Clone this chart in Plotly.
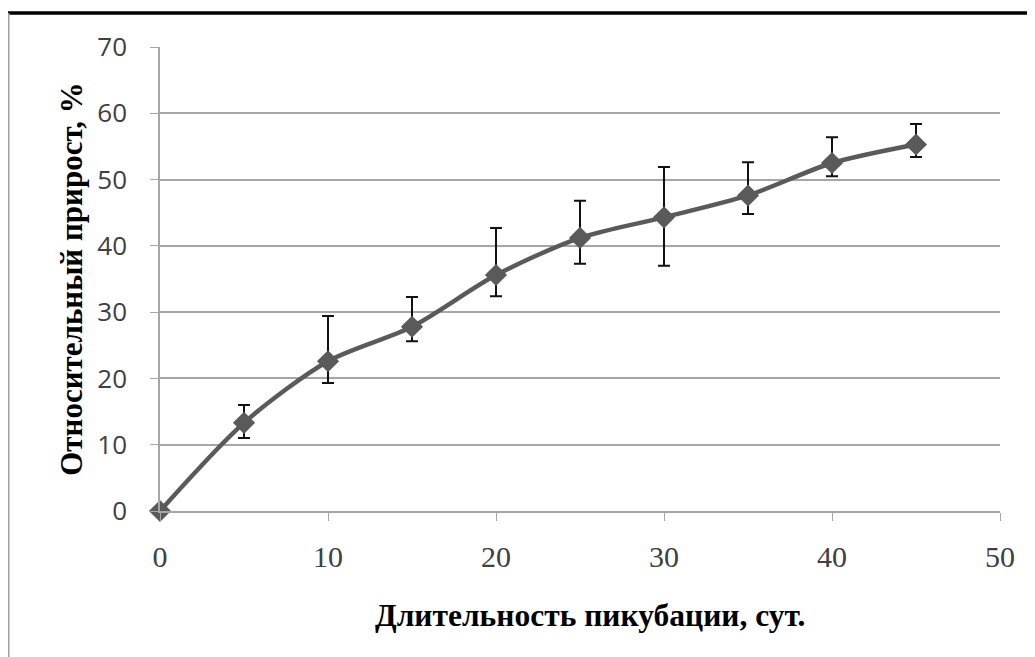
import plotly.graph_objects as go

days = [0, 5, 10, 15, 20, 25, 30, 35, 40, 45]
growth = [0, 13.3, 22.6, 27.8, 35.6, 41.2, 44.3, 47.6, 52.5, 55.3]
err_plus = [0, 2.7, 6.8, 4.5, 7.1, 5.6, 7.6, 5.0, 3.9, 3.1]
err_minus = [0, 2.3, 3.3, 2.2, 3.2, 3.9, 7.3, 2.8, 2.0, 1.9]

x_title = "Длительность пикубации, сут."
y_title = "Относительный прирост, %"
x_ticks = [0, 10, 20, 30, 40, 50]
y_ticks = [0, 10, 20, 30, 40, 50, 60, 70]

W, H = 1035, 657
ml, mt = 152, 39
pw, ph = 840, 464
mr = W - ml - pw
mb = H - mt - ph


def px(xpix):
    return (xpix - ml) / pw


def py(ypix):
    return (mt + ph - ypix) / ph


fig = go.Figure()
fig.add_trace(go.Scatter(
    x=days, y=growth, mode="lines+markers", cliponaxis=False,
    line=dict(color="#5a5a5a", width=4.5, shape="spline", smoothing=0.8),
    marker=dict(symbol="diamond", size=17, color="#5a5a5a"),
    error_y=dict(type="data", symmetric=False, array=err_plus, arrayminus=err_minus,
                 color="#111111", thickness=2, width=6),
    showlegend=False,
))

fig.update_layout(
    width=W, height=H,
    margin=dict(l=ml, r=mr, t=mt, b=mb),
    paper_bgcolor="white", plot_bgcolor="white",
    xaxis=dict(range=[0, 50], tickvals=x_ticks, showgrid=False, zeroline=False,
               showline=True, linecolor="#a6a6a6", linewidth=1.5,
               ticks="outside", ticklen=8, tickcolor="#a6a6a6",
               ticklabelstandoff=10,
               tickfont=dict(family="Liberation Serif", size=30, color="#404040")),
    yaxis=dict(range=[0, 70], tickvals=y_ticks, showgrid=True, gridcolor="#a6a6a6", gridwidth=1.5,
               zeroline=False, showline=True, linecolor="#a6a6a6", linewidth=1.5,
               ticks="outside", ticklen=8, tickcolor="#a6a6a6",
               ticklabelstandoff=18,
               tickfont=dict(family="Open Sans", size=26, color="#404040"),
               title=dict(text=y_title, standoff=5,
                          font=dict(family="Liberation Serif", size=31, color="black", weight="bold"))),
    annotations=[
        dict(text=x_title, xref="paper", yref="paper", x=px(582), y=py(607),
             xanchor="center", yanchor="middle", showarrow=False,
             font=dict(family="Liberation Serif", size=31.5, color="black", weight="bold")),
    ],
    shapes=[
        dict(type="line", xref="paper", yref="paper",
             x0=px(-1), x1=px(W + 10), y0=py(5), y1=py(5),
             line=dict(color="black", width=3.5)),
        dict(type="line", xref="paper", yref="paper",
             x0=px(0.5), x1=px(0.5), y0=py(5), y1=py(H + 10),
             line=dict(color="#a0a0a0", width=2)),
    ],
)

fig.write_html("out.html")
